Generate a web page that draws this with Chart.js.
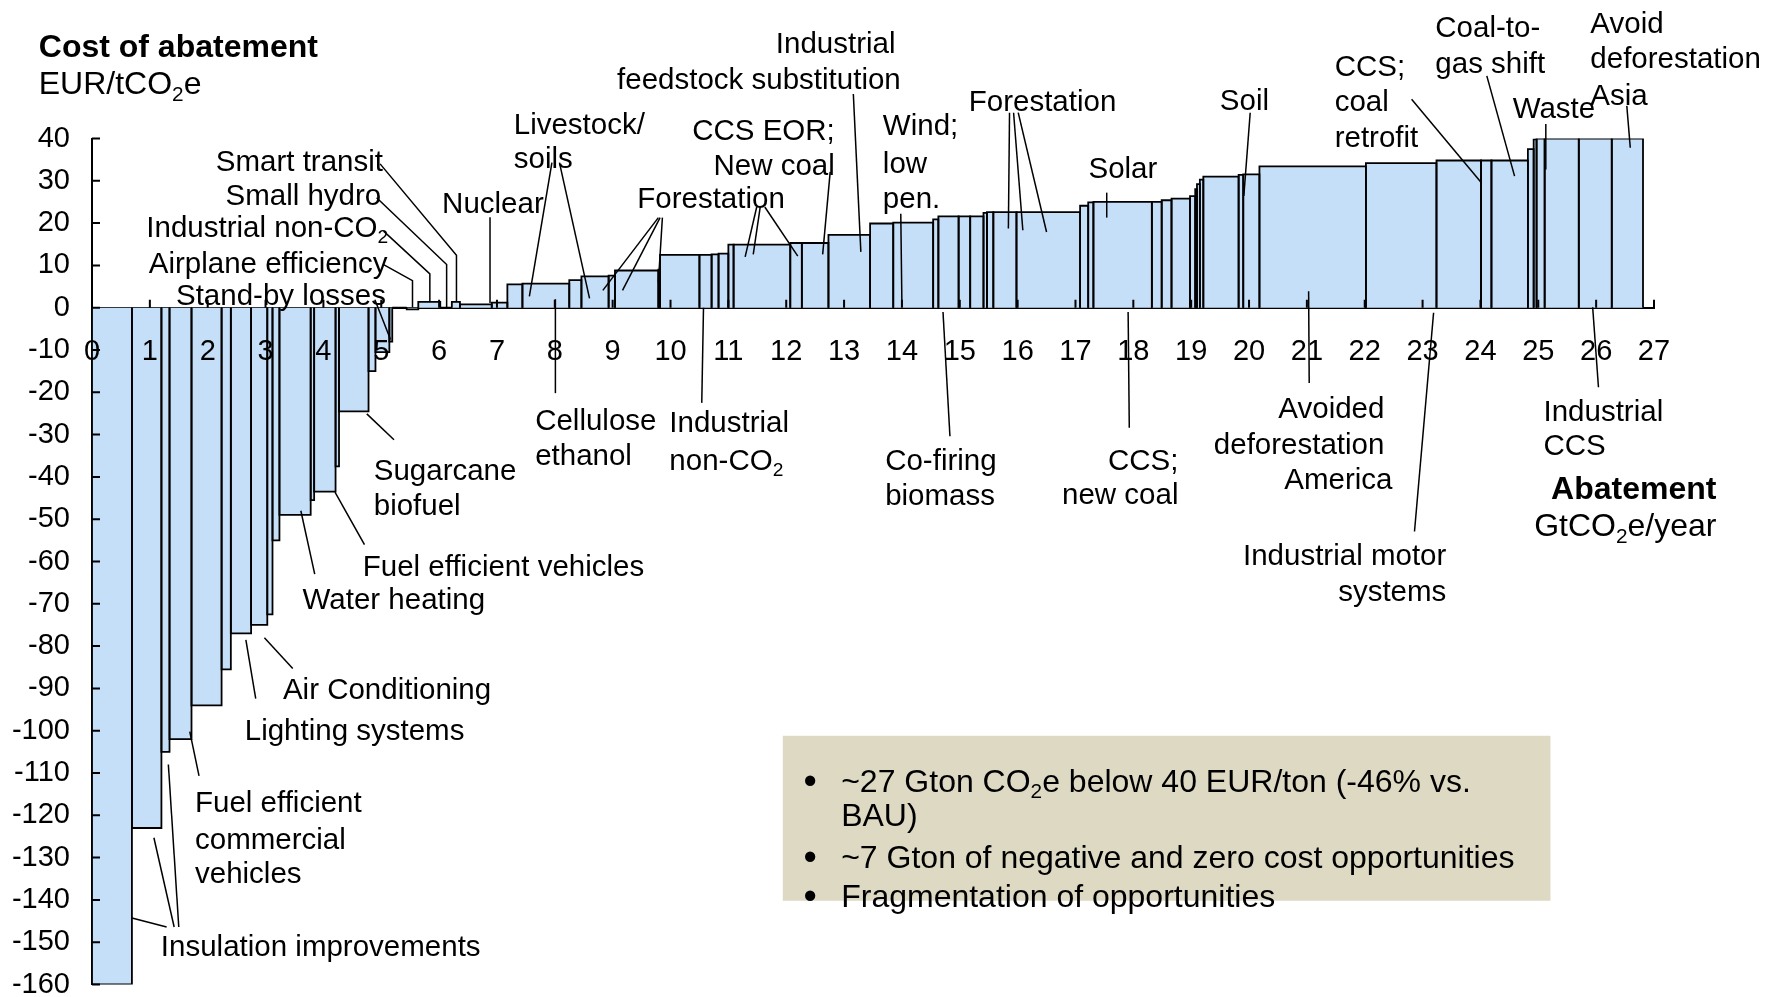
<!DOCTYPE html>
<html>
<head>
<meta charset="utf-8">
<title>Cost of abatement</title>
<script src="https://cdn.jsdelivr.net/npm/chart.js@4.4.1/dist/chart.umd.min.js"></script>
<style>
	html, body { margin: 0; padding: 0; background: #fff; }
	#curve { display: block; }
</style>
</head>
<body>
<canvas id="curve" width="1773" height="997"></canvas>
<script>
//
// Abatement measures sorted by cost : width = GtCO2e/year, height = EUR/tCO2e
//
const measureWidth = [
	0.69, 0.51, 0.14, 0.38, 0.52, 0.16, 0.35, 0.28, 0.09, 0.12, 0.54, 0.06, 0.37, 0.06, 0.51, 0.12, 0.24, 0.05,
	0.25, 0.20, 0.38, 0.20, 0.14, 0.55, 0.27,
	0.26, 0.81, 0.21, 0.47, 0.11, 0.75, 0.03, 0.68, 0.21, 0.12, 0.17, 0.09, 0.98, 0.20, 0.46, 0.72,
	0.40, 0.69, 0.09, 0.35, 0.20, 0.23, 0.06, 0.11, 0.40, 1.10, 0.14, 0.09, 1.01, 0.17, 0.17, 0.32,
	0.09, 0.03, 0.05, 0.06, 0.61, 0.08, 0.28,
	1.84, 1.22, 0.77, 0.18, 0.63, 0.10, 0.05, 0.14, 0.59, 0.57, 0.54
];
const measureCost = [
	-160, -123, -105, -102, -94, -85.5, -77, -75, -72.5, -55, -49, -45.5, -43.5, -37.5, -24.5, -15, -10.5, -8,
	0, -0.4, 1.4, 0, 1.4, 0.8, 1.2,
	5.5, 5.7, 6.5, 7.4, 7.6, 8.8, 9.0, 12.5, 12.5, 12.6, 12.8, 14.9, 14.9, 15.3, 15.3, 17.2,
	19.9, 20.1, 20.9, 21.6, 21.6, 21.6, 22.4, 22.6, 22.6, 22.6, 24.1, 24.9, 25.0, 25.0, 25.4, 25.8,
	26.4, 28.0, 29.2, 30.3, 31.0, 31.4, 31.5,
	33.4, 34.2, 34.8, 34.8, 34.8, 37.5, 39.8, 40, 40, 40, 40
];

// axes
const costRange = [ -160, 40 ];
const costStep = 10;
const abatementRange = [ 0, 27 ];

//
// Callouts : [text, x, y] in chart units, then leader lines
//
const callouts = [
	{ align: "right", lines: [ [ "Smart transit", 5.03, 34.9 ] ], leaders: [ [ [ 4.98, 34.0 ], [ 6.30, 12.4 ], [ 6.30, 1.5 ] ] ] },
	{ align: "right", lines: [ [ "Small hydro", 5.00, 26.9 ] ], leaders: [ [ [ 4.92, 26.0 ], [ 6.13, 10.2 ], [ 6.13, 0.1 ] ] ] },
	{ align: "right", lines: [ [ "Industrial non-CO₂", 5.12, 19.3 ] ], leaders: [ [ [ 5.04, 18.1 ], [ 5.84, 8.0 ], [ 5.84, 1.5 ] ] ] },
	{ align: "right", lines: [ [ "Airplane efficiency", 5.11, 10.8 ] ], leaders: [ [ [ 5.04, 10.2 ], [ 5.54, 6.4 ], [ 5.54, 0.1 ] ] ] },
	{ align: "right", lines: [ [ "Stand-by losses", 5.08, 3.1 ] ], leaders: [ [ [ 4.89, 1.9 ], [ 5.16, -7.5 ] ] ] },
	{ align: "center", lines: [ [ "Nuclear", 6.93, 24.8 ] ], leaders: [ [ [ 6.88, 21.4 ], [ 6.88, 1.1 ] ] ] },
	{ align: "left", lines: [ [ "Livestock/", 7.29, 43.5 ], [ "soils", 7.29, 35.5 ] ],
		leaders: [ [ [ 7.95, 34.3 ], [ 7.56, 2.7 ] ], [ [ 8.08, 34.3 ], [ 8.60, 2.2 ] ] ] },
	{ align: "center", lines: [ [ "Forestation", 10.70, 26.0 ] ],
		leaders: [ [ [ 9.79, 21.3 ], [ 8.83, 4.1 ] ], [ [ 9.82, 21.3 ], [ 9.17, 4.1 ] ], [ [ 9.86, 21.3 ], [ 9.79, 6.0 ] ],
			[ [ 11.49, 23.8 ], [ 11.29, 12.0 ] ], [ [ 11.55, 23.8 ], [ 11.43, 12.6 ] ], [ [ 11.63, 23.8 ], [ 12.20, 12.2 ] ] ] },
	{ align: "right", lines: [ [ "CCS EOR;", 12.84, 42.2 ], [ "New coal", 12.84, 33.9 ] ], leaders: [ [ [ 12.76, 32.1 ], [ 12.63, 12.6 ] ] ] },
	{ align: "right", lines: [ [ "Industrial", 13.89, 62.7 ], [ "feedstock substitution", 13.98, 54.3 ] ], leaders: [ [ [ 13.16, 50.5 ], [ 13.29, 13.2 ] ] ] },
	{ align: "left", lines: [ [ "Wind;", 13.67, 43.4 ], [ "low", 13.67, 34.3 ], [ "pen.", 13.67, 26.0 ] ], leaders: [ [ [ 13.98, 22.2 ], [ 14.00, 0.4 ] ] ] },
	{ align: "center", lines: [ [ "Forestation", 16.43, 48.9 ] ],
		leaders: [ [ [ 15.86, 46.1 ], [ 15.84, 18.7 ] ], [ [ 15.93, 46.1 ], [ 16.09, 18.3 ] ], [ [ 16.01, 46.1 ], [ 16.50, 17.9 ] ] ] },
	{ align: "center", lines: [ [ "Solar", 17.82, 33.1 ] ], leaders: [ [ [ 17.54, 27.2 ], [ 17.54, 21.3 ] ] ] },
	{ align: "center", lines: [ [ "Soil", 19.92, 49.3 ] ], leaders: [ [ [ 20.02, 46.1 ], [ 19.91, 26.4 ] ] ] },
	{ align: "left", lines: [ [ "CCS;", 21.48, 57.2 ], [ "coal", 21.48, 48.9 ], [ "retrofit", 21.48, 40.6 ] ], leaders: [ [ [ 22.81, 49.3 ], [ 24.02, 29.5 ] ] ] },
	{ align: "left", lines: [ [ "Coal-to-", 23.22, 66.4 ], [ "gas shift", 23.22, 57.9 ] ], leaders: [ [ [ 24.11, 54.8 ], [ 24.59, 31.1 ] ] ] },
	{ align: "center", lines: [ [ "Waste", 25.27, 47.3 ] ], leaders: [ [ [ 25.13, 43.4 ], [ 25.13, 32.7 ] ] ] },
	{ align: "left", lines: [ [ "Avoid", 25.90, 67.4 ], [ "deforestation", 25.90, 59.1 ], [ "Asia", 25.90, 50.5 ] ], leaders: [ [ [ 26.53, 47.7 ], [ 26.59, 37.8 ] ] ] },

	{ align: "left", lines: [ [ "Cellulose", 7.66, -26.5 ], [ "ethanol", 7.66, -34.7 ] ], leaders: [ [ [ 8.01, 2.0 ], [ 8.01, -20.2 ] ] ] },
	{ align: "left", lines: [ [ "Industrial", 9.98, -26.9 ], [ "non-CO₂", 9.98, -35.9 ] ], leaders: [ [ [ 10.57, 0 ], [ 10.54, -22.5 ] ] ] },
	{ align: "left", lines: [ [ "Co-firing", 13.71, -35.9 ], [ "biomass", 13.71, -44.2 ] ], leaders: [ [ [ 14.71, -1.0 ], [ 14.83, -30.4 ] ] ] },
	{ align: "right", lines: [ [ "CCS;", 18.78, -35.9 ], [ "new coal", 18.78, -43.8 ] ], leaders: [ [ [ 17.91, -1.0 ], [ 17.93, -28.4 ] ] ] },
	{ align: "right", lines: [ [ "Avoided", 22.34, -23.6 ], [ "deforestation", 22.34, -32.0 ], [ "America", 22.48, -40.3 ] ], leaders: [ [ [ 21.03, 3.9 ], [ 21.04, -17.8 ] ] ] },
	{ align: "right", lines: [ [ "Industrial motor", 23.41, -58.3 ], [ "systems", 23.41, -66.9 ] ], leaders: [ [ [ 23.19, -1.2 ], [ 22.86, -52.9 ] ] ] },
	{ align: "left", lines: [ [ "Industrial", 25.09, -24.3 ], [ "CCS", 25.09, -32.4 ] ], leaders: [ [ [ 25.94, 0.1 ], [ 26.04, -18.8 ] ] ] },

	{ align: "left", lines: [ [ "Sugarcane", 4.87, -38.2 ], [ "biofuel", 4.87, -46.6 ] ], leaders: [ [ [ 4.75, -25.1 ], [ 5.22, -31.2 ] ] ] },
	{ align: "left", lines: [ [ "Fuel efficient vehicles", 4.68, -60.8 ] ], leaders: [ [ [ 4.20, -43.6 ], [ 4.71, -56.0 ] ] ] },
	{ align: "left", lines: [ [ "Water heating", 3.64, -68.6 ] ], leaders: [ [ [ 3.61, -48.0 ], [ 3.85, -63.0 ] ] ] },
	{ align: "left", lines: [ [ "Air Conditioning", 3.30, -90.1 ] ], leaders: [ [ [ 2.98, -78.0 ], [ 3.47, -85.3 ] ] ] },
	{ align: "left", lines: [ [ "Lighting systems", 2.64, -99.8 ] ], leaders: [ [ [ 2.66, -78.5 ], [ 2.83, -92.4 ] ] ] },
	{ align: "left", lines: [ [ "Fuel efficient", 1.78, -116.8 ], [ "commercial", 1.78, -125.5 ], [ "vehicles", 1.78, -133.4 ] ], leaders: [ [ [ 1.69, -100.2 ], [ 1.85, -110.7 ] ] ] },
	{ align: "left", lines: [ [ "Insulation improvements", 1.19, -150.7 ] ],
		leaders: [ [ [ 1.29, -146.4 ], [ 0.69, -144.3 ] ], [ [ 1.42, -146.4 ], [ 1.07, -125.3 ] ], [ [ 1.50, -146.4 ], [ 1.32, -108.0 ] ] ] }
];

const axisTitles = [
	{ text: "Cost of abatement", bold: true, x: -0.92, y: 61.9, align: "left" },
	{ text: "EUR/tCO₂e", bold: false, x: -0.92, y: 53.1, align: "left" },
	{ text: "Abatement", bold: true, x: 28.08, y: -42.5, align: "right" },
	{ text: "GtCO₂e/year", bold: false, x: 28.08, y: -51.3, align: "right" }
];

// summary box
const summaryBox = { x0: 11.94, x1: 25.21, y0: -101.2, y1: -140.2 };
const summaryBulletX = 12.30;
const summaryTextX = 12.95;
const summaryLines = [
	[ "•", "~27 Gton CO₂e below 40 EUR/ton (-46% vs.", -111.8 ],
	[ "", "BAU)", -119.9 ],
	[ "•", "~7 Gton of negative and zero cost opportunities", -129.8 ],
	[ "•", "Fragmentation of opportunities", -139.1 ]
];

const FAMILY = "\"Liberation Sans\", Arial, sans-serif";
const BAR_FILL = "#C5DFF8";
const BOX_FILL = "#DDD9C3";
const TEXT_SHIFT = 2.5;		// visual centre of glyphs vs "middle" baseline

function fontFor( size, bold ) {
	return ( bold ? "bold " : "" ) + size + "px " + FAMILY;
}

// text with a subscript 2
function drawRich( ctx, text, x, y, align, size, bold ) {
	const parts = text.split( /(₂)/ ).filter( p => p.length );
	let width = 0;
	parts.forEach( p => {
		ctx.font = fontFor( p === "₂" ? size * 0.65 : size, bold );
		width += ctx.measureText( p === "₂" ? "2" : p ).width;
	} );
	let cx = align === "right" ? x - width : ( align === "center" ? x - width / 2 : x );
	y += TEXT_SHIFT;
	ctx.textAlign = "left";
	ctx.textBaseline = "middle";
	parts.forEach( p => {
		const sub = p === "₂";
		ctx.font = fontFor( sub ? size * 0.65 : size, bold );
		const t = sub ? "2" : p;
		ctx.fillText( t, cx, sub ? y + size * 0.3 : y );
		cx += ctx.measureText( t ).width;
	} );
}

//
// One closed step outline per measure
//
const datasets = [];
let start = 0;
for ( let i = 0; i < measureWidth.length; i++ ) {
	const end = Math.round( ( start + measureWidth[ i ] ) * 100 ) / 100;
	const c = measureCost[ i ];
	datasets.push( {
		data: [ { x: start, y: 0 }, { x: start, y: c }, { x: end, y: c }, { x: end, y: 0 } ],
		borderColor: "#000",
		borderWidth: 1.8,
		backgroundColor: BAR_FILL,
		fill: "origin",
		pointRadius: 0,
		tension: 0
	} );
	start = end;
}

const annotate = {
	id: "annotate",
	afterDraw( chart ) {
		const { ctx, scales: { x, y } } = chart;
		const px = v => x.getPixelForValue( v );
		const py = v => y.getPixelForValue( v );
		ctx.save();
		ctx.strokeStyle = "#000";
		ctx.fillStyle = "#000";

		// inward tick marks
		ctx.lineWidth = 2;
		ctx.beginPath();
		for ( let i = abatementRange[ 0 ]; i <= abatementRange[ 1 ]; i++ ) {
			ctx.moveTo( px( i ), py( 0 ) );
			ctx.lineTo( px( i ), py( 0 ) - 8 );
		}
		for ( let v = costRange[ 0 ]; v <= costRange[ 1 ]; v += costStep ) {
			ctx.moveTo( px( 0 ), py( v ) );
			ctx.lineTo( px( 0 ) + 8, py( v ) );
		}
		ctx.stroke();

		// callouts
		ctx.lineWidth = 1.5;
		callouts.forEach( c => {
			c.leaders.forEach( l => {
				ctx.beginPath();
				l.forEach( ( p, k ) => k ? ctx.lineTo( px( p[ 0 ] ), py( p[ 1 ] ) ) : ctx.moveTo( px( p[ 0 ] ), py( p[ 1 ] ) ) );
				ctx.stroke();
			} );
			c.lines.forEach( l => drawRich( ctx, l[ 0 ], px( l[ 1 ] ), py( l[ 2 ] ), c.align, 29.5, false ) );
		} );

		axisTitles.forEach( t => drawRich( ctx, t.text, px( t.x ), py( t.y ), t.align, 32, t.bold ) );

		// summary box
		ctx.fillStyle = BOX_FILL;
		ctx.fillRect( px( summaryBox.x0 ), py( summaryBox.y0 ), px( summaryBox.x1 ) - px( summaryBox.x0 ), py( summaryBox.y1 ) - py( summaryBox.y0 ) );
		ctx.fillStyle = "#000";
		summaryLines.forEach( l => {
			if ( l[ 0 ] ) drawRich( ctx, l[ 0 ], px( summaryBulletX ), py( l[ 2 ] ), "left", 38, false );
			drawRich( ctx, l[ 1 ], px( summaryTextX ), py( l[ 2 ] ), "left", 32, false );
		} );
		ctx.restore();
	}
};

new Chart( document.getElementById( "curve" ),
	{
		type: "line",
		data: { datasets: datasets },
		options: {
			responsive: false,
			animation: false,
			events: [],
			layout: {
				padding: { top: 138.5, bottom: 12.5, left: 0, right: 119 }
			},
			plugins: {
				legend: { display: false },
				tooltip: { enabled: false },
				filler: { drawTime: "beforeDatasetsDraw" }
			},
			scales: {
				x: {
					type: "linear",
					min: abatementRange[ 0 ],
					max: abatementRange[ 1 ],
					position: { y: 0 },
					grid: { display: false, drawTicks: false },
					border: { display: true, color: "#000", width: 2 },
					ticks: {
						stepSize: 1,
						autoSkip: false,
						maxRotation: 0,
						padding: 27,
						z: 1,
						color: "#000",
						font: { family: FAMILY, size: 29 }
					}
				},
				y: {
					type: "linear",
					min: costRange[ 0 ],
					max: costRange[ 1 ],
					position: "left",
					grid: { display: false, drawTicks: false },
					border: { display: true, color: "#000", width: 2 },
					ticks: {
						stepSize: costStep,
						padding: 22,
						color: "#000",
						font: { family: FAMILY, size: 29 }
					},
					afterFit( scale ) {
						// fixed axis width, no extra room reserved for end labels
						scale.width = 92;
						scale.paddingTop = 0;
						scale.paddingBottom = 0;
					}
				}
			}
		},
		plugins: [ annotate ]
	} );
</script>
</body>
</html>
